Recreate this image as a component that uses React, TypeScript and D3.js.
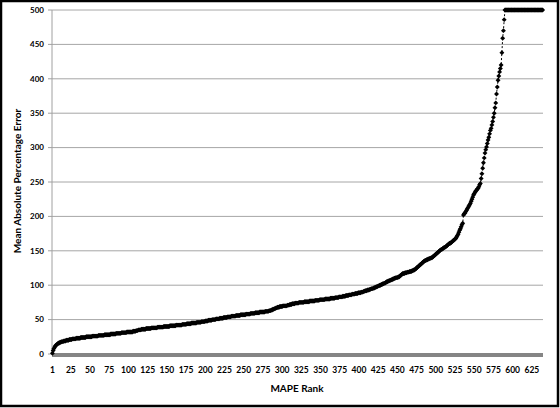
import React from "react";
import * as d3 from "d3";

// MAPE values ordered by rank (1..639)
const mapeValues: number[] = [
  1,5,8,10,12,13,14,15,16,16,17,17,18,18,18,19,19,19,20,20,20,20,21,21,21,
  21,22,22,22,22,22,23,23,23,23,23,23,24,24,24,24,24,24,24,25,25,25,25,25,25,
  25,25,26,26,26,26,26,26,26,26,27,27,27,27,27,27,27,27,28,28,28,28,28,28,28,
  28,29,29,29,29,29,29,29,30,30,30,30,30,30,30,31,31,31,31,31,31,31,32,32,32,
  32,32,32,32,32,33,33,33,33,34,34,34,35,35,35,35,36,36,36,36,36,36,37,37,37,
  37,37,37,37,38,38,38,38,38,38,38,38,39,39,39,39,39,39,39,39,40,40,40,40,40,
  40,40,40,41,41,41,41,41,41,41,41,42,42,42,42,42,42,42,42,43,43,43,43,43,43,
  44,44,44,44,44,44,45,45,45,45,45,45,45,46,46,46,46,46,46,47,47,47,47,47,48,
  48,48,48,49,49,49,49,49,50,50,50,50,50,51,51,51,51,51,52,52,52,52,52,53,53,
  53,53,53,54,54,54,54,54,55,55,55,55,55,55,56,56,56,56,56,56,57,57,57,57,57,
  57,57,58,58,58,58,58,58,59,59,59,59,59,59,60,60,60,60,60,60,61,61,61,61,61,
  61,61,62,62,62,62,62,63,63,63,64,64,65,65,66,66,67,67,68,68,68,69,69,69,69,
  70,70,70,70,70,70,71,71,71,72,72,72,73,73,73,73,74,74,74,74,74,75,75,75,75,
  75,75,75,76,76,76,76,76,76,76,77,77,77,77,77,77,77,78,78,78,78,78,78,79,79,
  79,79,79,79,79,80,80,80,80,80,80,80,81,81,81,81,81,81,82,82,82,82,82,83,83,
  83,83,83,84,84,84,84,85,85,85,85,86,86,86,86,87,87,87,87,88,88,88,88,89,89,
  89,89,90,90,90,91,91,92,92,92,93,93,93,94,94,95,95,95,96,96,97,97,98,98,99,
  99,100,100,101,101,102,102,103,103,104,105,105,106,106,107,107,108,108,109,109,110,110,111,111,111,
  112,112,113,114,115,116,117,117,117,118,118,118,119,119,119,120,120,120,121,121,122,122,123,124,125,
  126,127,128,129,130,131,132,133,134,135,136,136,137,137,138,138,139,139,140,140,141,142,143,144,145,
  146,147,148,149,150,151,152,152,153,154,155,155,156,157,158,159,160,161,161,162,163,164,165,166,167,
  168,170,172,174,177,180,182,185,188,190,202,204,205,207,209,211,213,215,217,219,222,225,228,231,233,
  235,237,238,240,241,243,246,248,255,262,270,278,285,292,297,301,306,311,315,320,325,328,333,338,344,
  350,358,365,378,388,398,404,410,415,420,438,459,470,486,
  500,500,500,500,500,500,500,500,500,500,500,500,500,500,500,500,500,500,500,500,500,500,500,500,500,
  500,500,500,500,500,500,500,500,500,500,500,500,500,500,500,500,500,500,500,500,500,500,500,500,500,
];

const ranks: number[] = mapeValues.map((_, i) => i + 1);
const xTickLabels: number[] = [1, 25, 50, 75, 100, 125, 150, 175, 200, 225, 250, 275, 300, 325, 350, 375, 400, 425, 450, 475, 500, 525, 550, 575, 600, 625];
const yTickValues: number[] = [0, 50, 100, 150, 200, 250, 300, 350, 400, 450, 500];
const xTitle = "MAPE Rank";
const yTitle = "Mean Absolute Percentage Error";

const W = 560;
const H = 408;
const left = 52;
const right = 543;
const top = 10;
const bottom = 354;
const FONT = "Lato, 'Liberation Sans', Arial, sans-serif";

export default function App() {
  const x = d3.scalePoint<number>().domain(ranks).range([left, right]).padding(0.5);
  const y = d3.scaleLinear().domain([0, 500]).range([bottom, top]);

  const line = d3
    .line<number>()
    .x((_, i) => x(ranks[i]) as number)
    .y((d) => y(d));

  const marker = d3.symbol(d3.symbolSquare, 12)() as string;

  return (
    <svg width={W} height={H} style={{ position: "absolute", left: 0, top: 0 }}>
      <rect x={0} y={0} width={W} height={H} fill="#fff" />
      {/* gridlines */}
      {yTickValues.filter((v) => v > 0).map((v) => (
        <line key={"g" + v} x1={left} x2={right} y1={y(v)} y2={y(v)} stroke="#a6a6a6" strokeWidth={1} />
      ))}
      {/* y axis */}
      <line x1={left} x2={left} y1={top} y2={bottom} stroke="#a0a0a0" strokeWidth={1} />
      {yTickValues.map((v) => (
        <g key={"yt" + v}>
          <line x1={left - 4} x2={left} y1={y(v)} y2={y(v)} stroke="#a0a0a0" />
          <text x={44} y={y(v)} dy="0.34em" textAnchor="end" fontFamily={FONT} fontWeight="bold" fontSize={8} fill="#000">
            {v}
          </text>
        </g>
      ))}
      {/* x axis thick bar */}
      <line x1={left} x2={right} y1={bottom + 1} y2={bottom + 1} stroke="#858585" strokeWidth={4} />
      {xTickLabels.map((r) => (
        <text key={"xt" + r} x={x(r) as number} y={373} textAnchor="middle" fontFamily={FONT} fontWeight="bold" fontSize={8.5} fill="#000">
          {r}
        </text>
      ))}
      {/* series */}
      <path d={line(mapeValues) as string} fill="none" stroke="#000" strokeWidth={1} strokeDasharray="2,2" />
      {mapeValues.map((v, i) => (
        <path
          key={"m" + i}
          d={marker}
          transform={`translate(${x(ranks[i])},${y(v)}) rotate(45)`}
          fill="#000"
        />
      ))}
      {/* titles */}
      <text x={297} y={392} textAnchor="middle" fontFamily={FONT} fontWeight="bold" fontSize={10} fill="#000">
        {xTitle}
      </text>
      <text transform={`translate(21,181) rotate(-90)`} textAnchor="middle" fontFamily={FONT} fontWeight="bold" fontSize={10} fill="#000">
        {yTitle}
      </text>
      {/* frame */}
      <rect x={1} y={1} width={557} height={405} fill="none" stroke="#000" strokeWidth={2.5} />
    </svg>
  );
}
